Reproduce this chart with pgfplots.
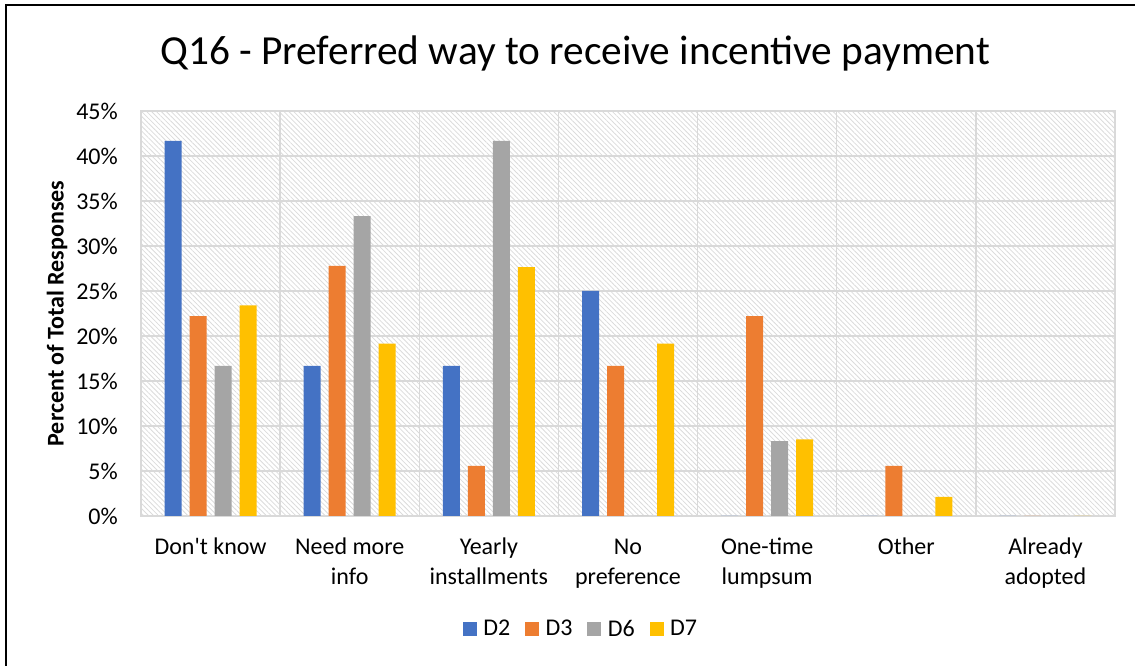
\documentclass[border=0pt]{standalone}
\usepackage{fontspec}
\setmainfont{Carlito}
\usepackage{pgfplots}
\pgfplotsset{compat=1.18}
\usetikzlibrary{patterns.meta}
\definecolor{cDtwo}{HTML}{4472C4}
\definecolor{cDthree}{HTML}{ED7D31}
\definecolor{cDsix}{HTML}{A5A5A5}
\definecolor{cDseven}{HTML}{FFC000}
\definecolor{gridc}{HTML}{D9D9D9}
\begin{document}
\begin{tikzpicture}
\useasboundingbox (0,0) rectangle (851.25pt,499.5pt);
\begin{axis}[
  at={(105.75pt,112.5pt)}, anchor=south west,
  scale only axis, width=730.5pt, height=303.75pt,
  ybar=6pt, bar width=12.75pt,
  every axis plot/.append style={draw=none,
    legend image code/.code={\fill[##1] (0pt,-5.25pt) rectangle (10.5pt,5.25pt);}},
  xmin=-0.5, xmax=6.5, ymin=0, ymax=45,
  xtick={0,...,6},
  xticklabels={Don\textquotesingle t know,{Need more\\info},{Yearly\\installments},{No\\preference},{One-time\\lumpsum},Other,{Already\\adopted}},
  minor xtick={-0.5,0.5,...,6.5},
  xminorgrids, ymajorgrids,
  ytick={0,5,...,45},
  yticklabel={\pgfmathprintnumber{\tick}\%},
  /pgf/number format/assume math mode=true,
  major tick length=0pt, minor tick length=0pt,
  axis line style={gridc, line width=1.1pt},
  grid style={gridc, line width=1.1pt},
  minor grid style={gridc, line width=1.1pt},
  axis background/.style={pattern={Lines[angle=-45,distance=2.6pt,line width=0.6pt]}, pattern color=black!14},
  typeset ticklabels with strut,
  tick label style={font=\fontsize{18}{22.5}\selectfont},
  xticklabel style={align=center, anchor=north, inner sep=0pt, yshift=-12.75pt},
  yticklabel style={anchor=east, inner sep=0pt, xshift=-17.25pt},
  ylabel={Percent of Total Responses},
  ylabel style={at={(axis description cs:-0.0862,0.5)}, anchor=center, font=\bfseries\fontsize{18}{21}\selectfont},
  title={Q16 - Preferred way to receive incentive payment},
  title style={at={(axis description cs:0.4456,1.094)}, anchor=base, font=\fontsize{31}{37}\selectfont},
  legend columns=4,
  legend style={at={(axis description cs:0.452,-0.279)}, anchor=center, draw=none, fill=none,
    font=\fontsize{18}{21}\selectfont,
    /tikz/every odd column/.append style={column sep=3pt},
    /tikz/every even column/.append style={column sep=9pt}},
]
\addplot[fill=cDtwo] coordinates {(0,41.67) (1,16.67) (2,16.67) (3,25) (4,0) (5,0) (6,0)};
\addplot[fill=cDthree] coordinates {(0,22.22) (1,27.78) (2,5.56) (3,16.67) (4,22.22) (5,5.56) (6,0)};
\addplot[fill=cDsix] coordinates {(0,16.67) (1,33.33) (2,41.67) (3,0) (4,8.33) (5,0) (6,0)};
\addplot[fill=cDseven] coordinates {(0,23.40) (1,19.15) (2,27.66) (3,19.15) (4,8.51) (5,2.13) (6,0)};
\legend{D2,D3,D6,D7}
\end{axis}
\draw[line width=1.5pt] (4.5pt,-20pt) -- (4.5pt,495.75pt) -- (880pt,495.75pt);
\end{tikzpicture}
\end{document}
